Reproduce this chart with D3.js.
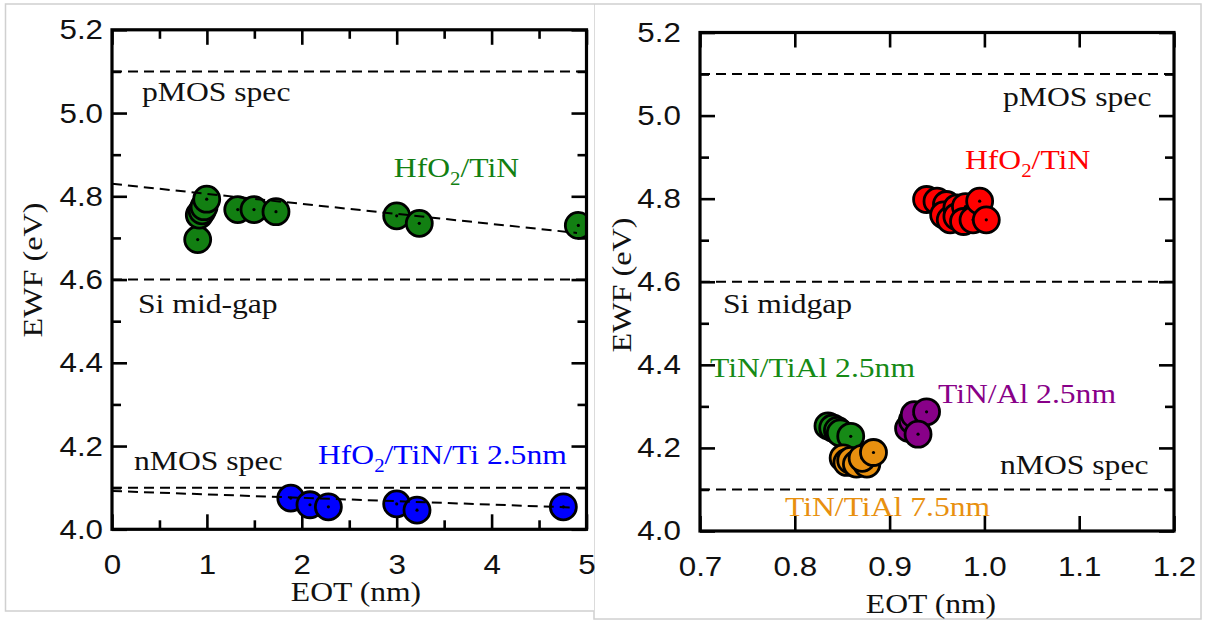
<!DOCTYPE html>
<html><head><meta charset="utf-8">
<script src="https://cdn.jsdelivr.net/npm/d3@7"></script>
<style>body{margin:0;background:#fff}svg{display:block}</style>
</head><body>
<svg id="chart" width="1205" height="622"></svg>
<script>
// ---------- Left panel data ----------
const leftXTicks = [0, 1, 2, 3, 4, 5];
const leftXMinor = [0.5, 1.5, 2.5, 3.5, 4.5];
const yTicks = [4.0, 4.2, 4.4, 4.6, 4.8, 5.0, 5.2];
const yMinor = [4.1, 4.3, 4.5, 4.7, 4.9, 5.1];
const specLevels = [5.1, 4.6, 4.1];

const leftGreenEOT = [0.903, 0.92, 0.95, 0.97, 0.998, 1.325, 1.496, 1.728, 3.0, 3.238, 4.914];
const leftGreenEWF = [4.696, 4.755, 4.765, 4.775, 4.793, 4.768, 4.768, 4.763, 4.753, 4.735, 4.730];
const leftBlueEOT = [1.884, 2.086, 2.28, 3.0, 3.214, 4.756];
const leftBlueEWF = [4.075, 4.059, 4.054, 4.061, 4.046, 4.054];
const greenFitEOT = [0, 4.9];
const greenFitEWF = [4.830, 4.712];
const blueFitEOT = [0, 4.9];
const blueFitEWF = [4.092, 4.052];

// ---------- Right panel data ----------
const rightXTicks = [0.7, 0.8, 0.9, 1.0, 1.1, 1.2];
const redEOT = [0.939, 0.950, 0.960, 0.957, 0.964, 0.971, 0.971, 0.980, 0.978, 0.988, 0.995, 1.002];
const redEWF = [4.798, 4.794, 4.786, 4.761, 4.749, 4.778, 4.757, 4.781, 4.745, 4.749, 4.794, 4.749];
const tial25EOT = [0.835, 0.840, 0.845, 0.848, 0.859];
const tial25EWF = [4.253, 4.248, 4.242, 4.236, 4.228];
const tial75EOT = [0.851, 0.855, 0.859, 0.865, 0.876, 0.871, 0.883];
const tial75EWF = [4.176, 4.165, 4.170, 4.161, 4.161, 4.175, 4.189];
const alEOT = [0.920, 0.924, 0.926, 0.939, 0.930];
const alEWF = [4.247, 4.266, 4.280, 4.287, 4.233];

const C = {green: "#127f12", blue: "#0000ff", red: "#ff0000", purple: "#880088", orange: "#e8900f", rgreen: "#168a16"};

const svg = d3.select("#chart");
svg.append("rect").attr("width", 1205).attr("height", 622).attr("fill", "#fff");

// panel borders (image frames)
svg.append("rect").attr("x", 594).attr("y", 4).attr("width", 607).attr("height", 615)
  .attr("fill", "#fff").attr("stroke", "#d0d0d0").attr("stroke-width", 1.5);
svg.append("rect").attr("x", 5).attr("y", 3.2).attr("width", 589).attr("height", 608)
  .attr("fill", "#fff");
svg.append("path").attr("d", "M594,4 H5.5 V611 H594").attr("fill", "none")
  .attr("stroke", "#d0d0d0").attr("stroke-width", 1.5);

const SERIF = "'Liberation Serif','Times New Roman',serif";
const SANS = "'Liberation Sans',Arial,sans-serif";

function addText(g, px, py, parts, opt = {}) {
  const size = opt.size || 28, sx = opt.sx || 1.13;
  const t = g.append("text")
    .attr("transform", `translate(${px},${py}) rotate(${opt.rotate || 0}) scale(${sx},1)`)
    .attr("font-family", SERIF).attr("font-size", size)
    .attr("fill", opt.color || "#111").attr("text-anchor", opt.anchor || "start");
  let shifted = 0;
  parts.forEach(p => {
    if (typeof p === "string") {
      t.append("tspan").attr("dy", -shifted).text(p); shifted = 0;
    } else {
      const d = size * 0.29;
      t.append("tspan").attr("dy", d - shifted).attr("font-size", size * 0.66).text(p.sub); shifted = d;
    }
  });
  return t;
}

function panel(id, x, y, xMajor, xMinor, xFmt, yPad) {
  const g = svg.append("g");
  const [x0, x1] = x.range(), [y0, y1] = y.range();
  const clipId = "clip" + id;
  svg.append("clipPath").attr("id", clipId).append("rect")
    .attr("x", x0).attr("y", y1).attr("width", x1 - x0).attr("height", y0 - y1);
  const style = sel => {
    sel.select(".domain").remove();
    sel.selectAll(".tick line").attr("stroke", "#000").attr("stroke-width", 2.6);
    sel.selectAll(".tick text").attr("font-family", SANS).attr("font-size", 28)
      .attr("fill", "#111").attr("transform", "scale(1.12,1)");
  };
  const axes = g.append("g");
  axes.append("g").attr("transform", `translate(0,${y0})`)
    .call(d3.axisBottom(x).tickValues(xMajor).tickSizeInner(-15).tickSizeOuter(0).tickPadding(25).tickFormat(xFmt)).call(style);
  axes.append("g").attr("transform", `translate(0,${y1})`)
    .call(d3.axisTop(x).tickValues(xMajor).tickSizeInner(-15).tickSizeOuter(0).tickFormat("")).call(style);
  if (xMinor.length) {
    axes.append("g").attr("transform", `translate(0,${y0})`)
      .call(d3.axisBottom(x).tickValues(xMinor).tickSizeInner(-9).tickSizeOuter(0).tickFormat("")).call(style);
    axes.append("g").attr("transform", `translate(0,${y1})`)
      .call(d3.axisTop(x).tickValues(xMinor).tickSizeInner(-9).tickSizeOuter(0).tickFormat("")).call(style);
  }
  axes.append("g").attr("transform", `translate(${x0},0)`)
    .call(d3.axisLeft(y).tickValues(yTicks).tickSizeInner(-15).tickSizeOuter(0).tickPadding(yPad).tickFormat(d3.format(".1f"))).call(style);
  axes.append("g").attr("transform", `translate(${x0},0)`)
    .call(d3.axisLeft(y).tickValues(yMinor).tickSizeInner(-9).tickSizeOuter(0).tickFormat("")).call(style);
  axes.append("g").attr("transform", `translate(${x1},0)`)
    .call(d3.axisRight(y).tickValues(yTicks).tickSizeInner(-15).tickSizeOuter(0).tickFormat("")).call(style);
  axes.append("g").attr("transform", `translate(${x1},0)`)
    .call(d3.axisRight(y).tickValues(yMinor).tickSizeInner(-9).tickSizeOuter(0).tickFormat("")).call(style);

  // spec lines
  g.append("g").selectAll("line").data(specLevels).join("line")
    .attr("x1", x0).attr("x2", x1).attr("y1", d => y(d)).attr("y2", d => y(d))
    .attr("stroke", "#000").attr("stroke-width", 2).attr("stroke-dasharray", "10,6");

  const data = g.append("g").attr("clip-path", `url(#${clipId})`);
  return {g, data, x, y};
}

function points(p, xs, ys, color) {
  xs.forEach((v, i) => {
    const cx = p.x(v), cy = p.y(ys[i]);
    p.data.append("circle").attr("cx", cx).attr("cy", cy).attr("r", 13)
      .attr("fill", color).attr("stroke", "#000").attr("stroke-width", 2.8);
    p.data.append("circle").attr("cx", cx).attr("cy", cy).attr("r", 1.6).attr("fill", "#000");
  });
}
function fit(p, xs, ys) {
  const line = d3.line().x(d => p.x(d[0])).y(d => p.y(d[1]));
  p.data.append("path").attr("d", line(xs.map((v, i) => [v, ys[i]])))
    .attr("fill", "none").attr("stroke", "#000").attr("stroke-width", 2).attr("stroke-dasharray", "10,6");
}
function frame(p) {
  const [x0, x1] = p.x.range(), [y0, y1] = p.y.range();
  p.g.append("rect").attr("x", x0).attr("y", y1).attr("width", x1 - x0).attr("height", y0 - y1)
    .attr("fill", "none").attr("stroke", "#000").attr("stroke-width", 3.2);
}

// ---------- Left panel ----------
const L = panel("L", d3.scaleLinear([0, 5], [112, 586.5]), d3.scaleLinear([4.0, 5.2], [529.3, 29.8]),
  leftXTicks, leftXMinor, d3.format("d"), 8);
points(L, leftGreenEOT, leftGreenEWF, C.green);
points(L, leftBlueEOT, leftBlueEWF, C.blue);
fit(L, greenFitEOT, greenFitEWF);
fit(L, blueFitEOT, blueFitEWF);
frame(L);
addText(L.g, L.x(0.316), L.y(5.028), ["pMOS spec"]);
addText(L.g, L.x(0.274), L.y(4.519), ["Si mid-gap"]);
addText(L.g, L.x(0.232), L.y(4.142), ["nMOS spec"]);
addText(L.g, L.x(2.97), L.y(4.847), ["HfO", {sub: "2"}, "/TiN"], {color: C.green});
addText(L.g, L.x(2.17), L.y(4.157), ["HfO", {sub: "2"}, "/TiN/Ti 2.5nm"], {color: C.blue});
addText(L.g, 356, 601, ["EOT (nm)"], {anchor: "middle"});
addText(L.g, 42, 270, ["EWF (eV)"], {anchor: "middle", rotate: -90, sx: 1.15});

// ---------- Right panel ----------
const R = panel("R", d3.scaleLinear([0.7, 1.2], [700, 1174]), d3.scaleLinear([4.0, 5.2], [531, 32.5]),
  rightXTicks, [], d3.format(".1f"), 17);
points(R, redEOT, redEWF, C.red);
points(R, tial25EOT, tial25EWF, C.rgreen);
points(R, tial75EOT, tial75EWF, C.orange);
points(R, alEOT, alEWF, C.purple);
frame(R);
addText(R.g, R.x(1.0196), R.y(5.023), ["pMOS spec"]);
addText(R.g, R.x(0.7243), R.y(4.525), ["Si midgap"]);
addText(R.g, R.x(1.0165), R.y(4.137), ["nMOS spec"]);
addText(R.g, R.x(0.9795), R.y(4.871), ["HfO", {sub: "2"}, "/TiN"], {color: C.red});
addText(R.g, R.x(0.7105), R.y(4.371), ["TiN/TiAl 2.5nm"], {color: C.rgreen});
addText(R.g, R.x(0.951), R.y(4.308), ["TiN/Al 2.5nm"], {color: C.purple});
addText(R.g, R.x(0.7897), R.y(4.036), ["TiN/TiAl 7.5nm"], {color: C.orange});
addText(R.g, 931, 613, ["EOT (nm)"], {anchor: "middle"});
addText(R.g, 631, 285, ["EWF (eV)"], {anchor: "middle", rotate: -90, sx: 1.15});
</script>
</body></html>
